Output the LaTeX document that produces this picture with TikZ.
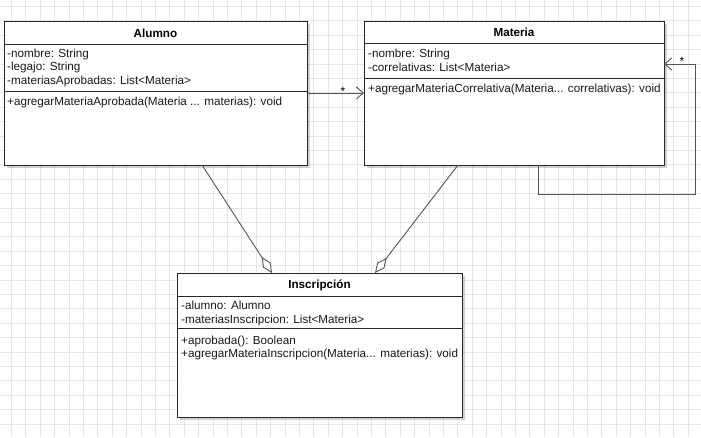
\documentclass[tikz,border=0pt]{standalone}
\usepackage{fontspec}
\setmainfont{Liberation Sans}
\usetikzlibrary{arrows.meta}
\definecolor{gridgray}{HTML}{E6E6E6}
\definecolor{linkgray}{HTML}{555555}
\begin{document}
\begin{tikzpicture}[x=1pt,y=-1pt,
  font=\fontsize{11.7}{13.5}\selectfont,
  classbox/.style={draw=black!85, line width=0.9pt, fill=white, inner sep=0pt, outer sep=0pt, anchor=north west},
  boxshadow/.style={fill=black, opacity=0.18},
  ctitle/.style={font=\fontsize{11.7}{13.5}\selectfont\bfseries, anchor=base, inner sep=0pt},
  member/.style={anchor=base west, inner sep=0pt, text=black!90},
  divider/.style={draw=black!85, line width=0.9pt},
  assoc/.style={draw=linkgray, line width=0.9pt, -{Straight Barb[length=7pt,width=12pt,line width=0.9pt]}},
  aggr/.style={draw=linkgray, line width=0.9pt, -{Diamond[length=19pt,width=9pt,fill=white,line width=0.9pt]}},
  mult/.style={inner sep=0pt, font=\fontsize{12}{14}\selectfont}]

% page and grid
\fill[white] (0,0) rectangle (701,437);
\useasboundingbox (0,0) rectangle (701,437);
\begin{scope}
  \clip (0,0) rectangle (701,437);
  \foreach \i in {0,...,48} \draw[gridgray, line width=0.8pt] (11.4+\i*14.4,0) -- ++(0,437);
  \foreach \j in {0,...,30} \draw[gridgray, line width=0.8pt] (0,6.4+\j*14.4) -- ++(701,0);
\end{scope}

% shadows
\fill[boxshadow] (6.5,23.5) rectangle ++(303,144);
\fill[boxshadow] (366.5,23.5) rectangle ++(300,144);
\fill[boxshadow] (179.5,275.5) rectangle ++(285,144);

% Alumno
\node[classbox, minimum width=303pt, minimum height=144pt] (alumno) at (4,21) {};
\draw[divider] (4,44) -- (307,44);
\draw[divider] (4,91) -- (307,91);
\node[ctitle] (alumnoT) at (155.5,37) {Alumno};
\node[member] (alumnoA1) at (7,57) {-nombre: String};
\node[member] (alumnoA2) at (7,70.5) {-legajo: String};
\node[member] (alumnoA3) at (7,84) {-materiasAprobadas: List<Materia>};
\node[member] (alumnoM1) at (7,105) {+agregarMateriaAprobada(Materia ... materias): void};

% Materia
\node[classbox, minimum width=300pt, minimum height=144pt] (materia) at (364,21) {};
\draw[divider] (364,43) -- (664,43);
\draw[divider] (364,78) -- (664,78);
\node[ctitle] (materiaT) at (514,36) {Materia};
\node[member] (materiaA1) at (368,57) {-nombre: String};
\node[member] (materiaA2) at (368,71) {-correlativas: List<Materia>};
\node[member] (materiaM1) at (368,92) {+agregarMateriaCorrelativa(Materia... correlativas): void};

% Inscripción
\node[classbox, minimum width=285pt, minimum height=144pt] (insc) at (177,273) {};
\draw[divider] (177,296) -- (462,296);
\draw[divider] (177,328) -- (462,328);
\node[ctitle] (inscT) at (319.5,288) {Inscripción};
\node[member] (inscA1) at (181,309) {-alumno: Alumno};
\node[member] (inscA2) at (181,323) {-materiasInscripcion: List<Materia>};
\node[member] (inscM1) at (181,344) {+aprobada(): Boolean};
\node[member] (inscM2) at (181,357.5) {+agregarMateriaInscripcion(Materia... materias): void};

% Alumno -> Materia
\draw[assoc] (alumno.east |- 0,93) -- (materia.west |- 0,93);
\node[mult] (multAM) at (343,91) {*};

% Materia -> Materia (correlativas)
\coordinate (loopA) at (538,194);
\coordinate (loopB) at (695,194);
\coordinate (loopC) at (695,64);
\draw[assoc] (materia.south -| loopA) -- (loopA) -- (loopB) -- (loopC) -- (materia.east |- loopC);
\node[mult] (multMM) at (682,61) {*};

% aggregations into Inscripción
\draw[aggr] (alumno.south -| 202,0) -- (insc.north -| 272,0);
\draw[aggr] (materia.south -| 458,0) -- (insc.north -| 375,0);
\end{tikzpicture}
\end{document}
